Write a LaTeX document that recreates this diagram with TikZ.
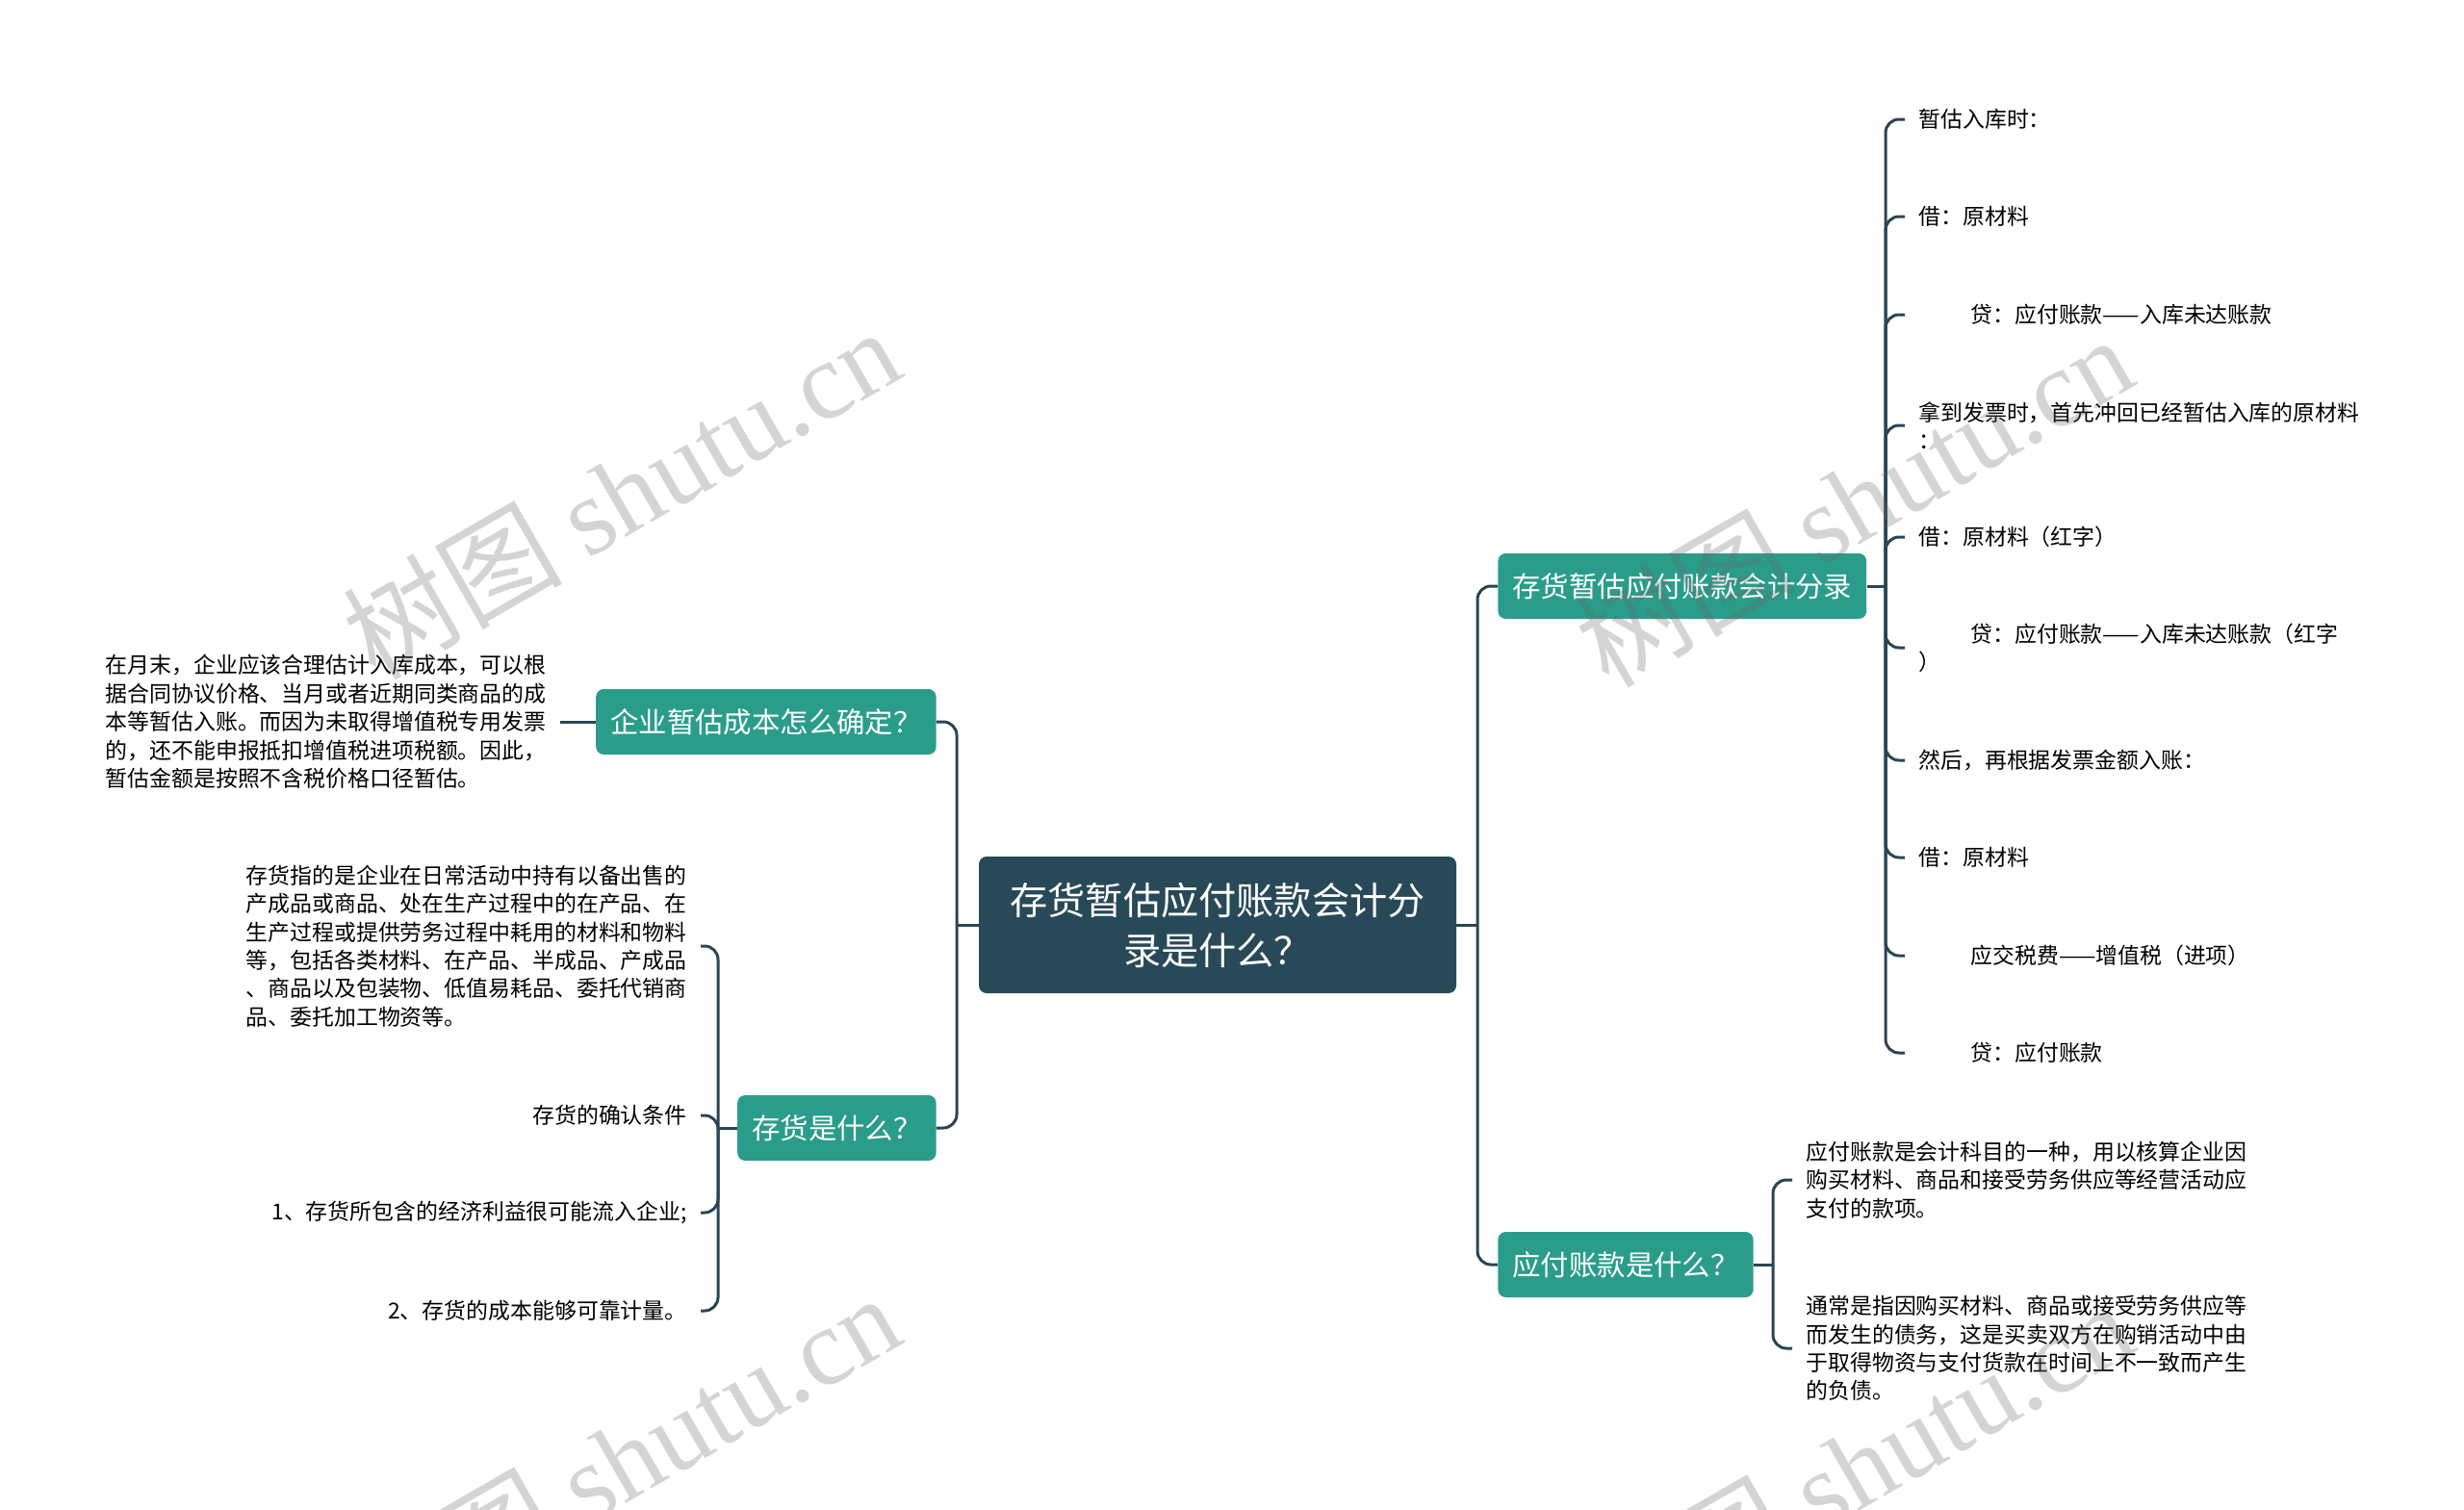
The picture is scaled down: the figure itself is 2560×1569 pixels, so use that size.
\documentclass[tikz,border=0pt]{standalone}
\usepackage{fontspec}
\setmainfont{Noto Sans CJK SC}
\newfontfamily\wmfont{Liberation Serif}
\usetikzlibrary{calc}

\definecolor{rootcol}{HTML}{284A58}
\definecolor{topiccol}{HTML}{2A9D8A}
\definecolor{linecol}{HTML}{2B4553}

\begin{document}
\begin{tikzpicture}[x=0.5pt, y=-0.5pt,
    root/.style={fill=rootcol, text=white, rounded corners=4pt, minimum width=248pt,
        minimum height=71pt, align=center, font=\fontsize{19.6pt}{26pt}\selectfont},
    topic/.style={fill=topiccol, text=white, rounded corners=4pt, minimum height=34pt,
        inner xsep=7.5pt, font=\fontsize{14.7pt}{18pt}\selectfont},
    leaf/.style={inner xsep=7pt, inner ysep=0pt, align=left,
        font=\fontsize{11.45pt}{14.7pt}\selectfont},
    link/.style={draw=linecol, line width=1.5pt, rounded corners=7pt},
    wm/.style={text=black!60, text opacity=0.28, rotate=30,
        font=\fontsize{57pt}{57pt}\selectfont}]
    \useasboundingbox[fill=white] (0,0) rectangle (2560,1569);

    % Nodes
    \node[root] (root) at (1265,961) {存货暂估应付账款会计分\\录是什么？};

    \node[topic, anchor=west] (t1) at (1556,609) {存货暂估应付账款会计分录};
    \node[topic, anchor=west] (t2) at (1556,1314) {应付账款是什么？};
    \node[topic, anchor=east] (t3) at (973,750) {企业暂估成本怎么确定？};
    \node[topic, anchor=east] (t4) at (973,1172) {存货是什么？};

    % leaves of t1
    \node[leaf, anchor=west] (a1) at (1979,124) {暂估入库时：};
    \node[leaf, anchor=west] (a2) at (1979,225) {借：原材料};
    \node[leaf, anchor=west] (a3) at (1979,327) {\hspace*{27pt}贷：应付账款——入库未达账款};
    \node[leaf, anchor=west] (a4) at (1979,442) {拿到发票时，首先冲回已经暂估入库的原材料\\：};
    \node[leaf, anchor=west] (a5) at (1979,558) {借：原材料（红字）};
    \node[leaf, anchor=west] (a6) at (1979,673) {\hspace*{27pt}贷：应付账款——入库未达账款（红字\\）};
    \node[leaf, anchor=west] (a7) at (1979,790) {然后，再根据发票金额入账：};
    \node[leaf, anchor=west] (a8) at (1979,891) {借：原材料};
    \node[leaf, anchor=west] (a9) at (1979,993) {\hspace*{27pt}应交税费——增值税（进项）};
    \node[leaf, anchor=west] (a10) at (1979,1094) {\hspace*{27pt}贷：应付账款};

    % leaves of t2
    \node[leaf, anchor=west] (b1) at (1862,1226) {应付账款是会计科目的一种，用以核算企业因\\购买材料、商品和接受劳务供应等经营活动应\\支付的款项。};
    \node[leaf, anchor=west] (b2) at (1862,1401) {通常是指因购买材料、商品或接受劳务供应等\\而发生的债务，这是买卖双方在购销活动中由\\于取得物资与支付货款在时间上不一致而产生\\的负债。};

    % leaves of t3 and t4
    \node[leaf, anchor=east] (c1) at (582,750) {在月末，企业应该合理估计入库成本，可以根\\据合同协议价格、当月或者近期同类商品的成\\本等暂估入账。而因为未取得增值税专用发票\\的，还不能申报抵扣增值税进项税额。因此，\\暂估金额是按照不含税价格口径暂估。};
    \node[leaf, anchor=east] (d1) at (728,983) {存货指的是企业在日常活动中持有以备出售的\\产成品或商品、处在生产过程中的在产品、在\\生产过程或提供劳务过程中耗用的材料和物料\\等，包括各类材料、在产品、半成品、产成品\\、商品以及包装物、低值易耗品、委托代销商\\品、委托加工物资等。};
    \node[leaf, anchor=east] (d2) at (728,1159) {存货的确认条件};
    \node[leaf, anchor=east] (d3) at (728,1260) {1、存货所包含的经济利益很可能流入企业;};
    \node[leaf, anchor=east] (d4) at (728,1362) {2、存货的成本能够可靠计量。};

    % Junctions
    \coordinate (jr) at (1535,961);
    \coordinate (jl) at (994,961);
    \coordinate (j1) at (1959,609);
    \coordinate (j2) at (1842,1314);
    \coordinate (j4) at (746,1172);

    % Edges
    \draw[link] (root.east) -- (jr);
    \draw[link] (root.west) -- (jl);
    \foreach \n in {t1,t2} \draw[link] (jr) |- (\n.west);
    \foreach \n in {t3,t4} \draw[link] (jl) |- (\n.east);

    \draw[link] (t1.east) -- (j1);
    \foreach \n in {a1,a2,a3,a4,a5,a6,a7,a8,a9,a10} \draw[link] (j1) |- (\n.west);
    \draw[link] (t2.east) -- (j2);
    \foreach \n in {b1,b2} \draw[link] (j2) |- (\n.west);
    \draw[link] (t3.west) -- (c1.east);
    \draw[link] (t4.west) -- (j4);
    \foreach \n in {d1,d2,d3,d4} \draw[link] (j4) |- (\n.east);

    % Watermarks
    \node[wm] (w1) at (645,512) {树图 {\wmfont shutu.cn}};
    \node[wm] (w2) at (1926,520) {树图 {\wmfont shutu.cn}};
    \node[wm] (w3) at (645,1516) {树图 {\wmfont shutu.cn}};
    \node[wm] (w4) at (1926,1524) {树图 {\wmfont shutu.cn}};
\end{tikzpicture}
\end{document}
